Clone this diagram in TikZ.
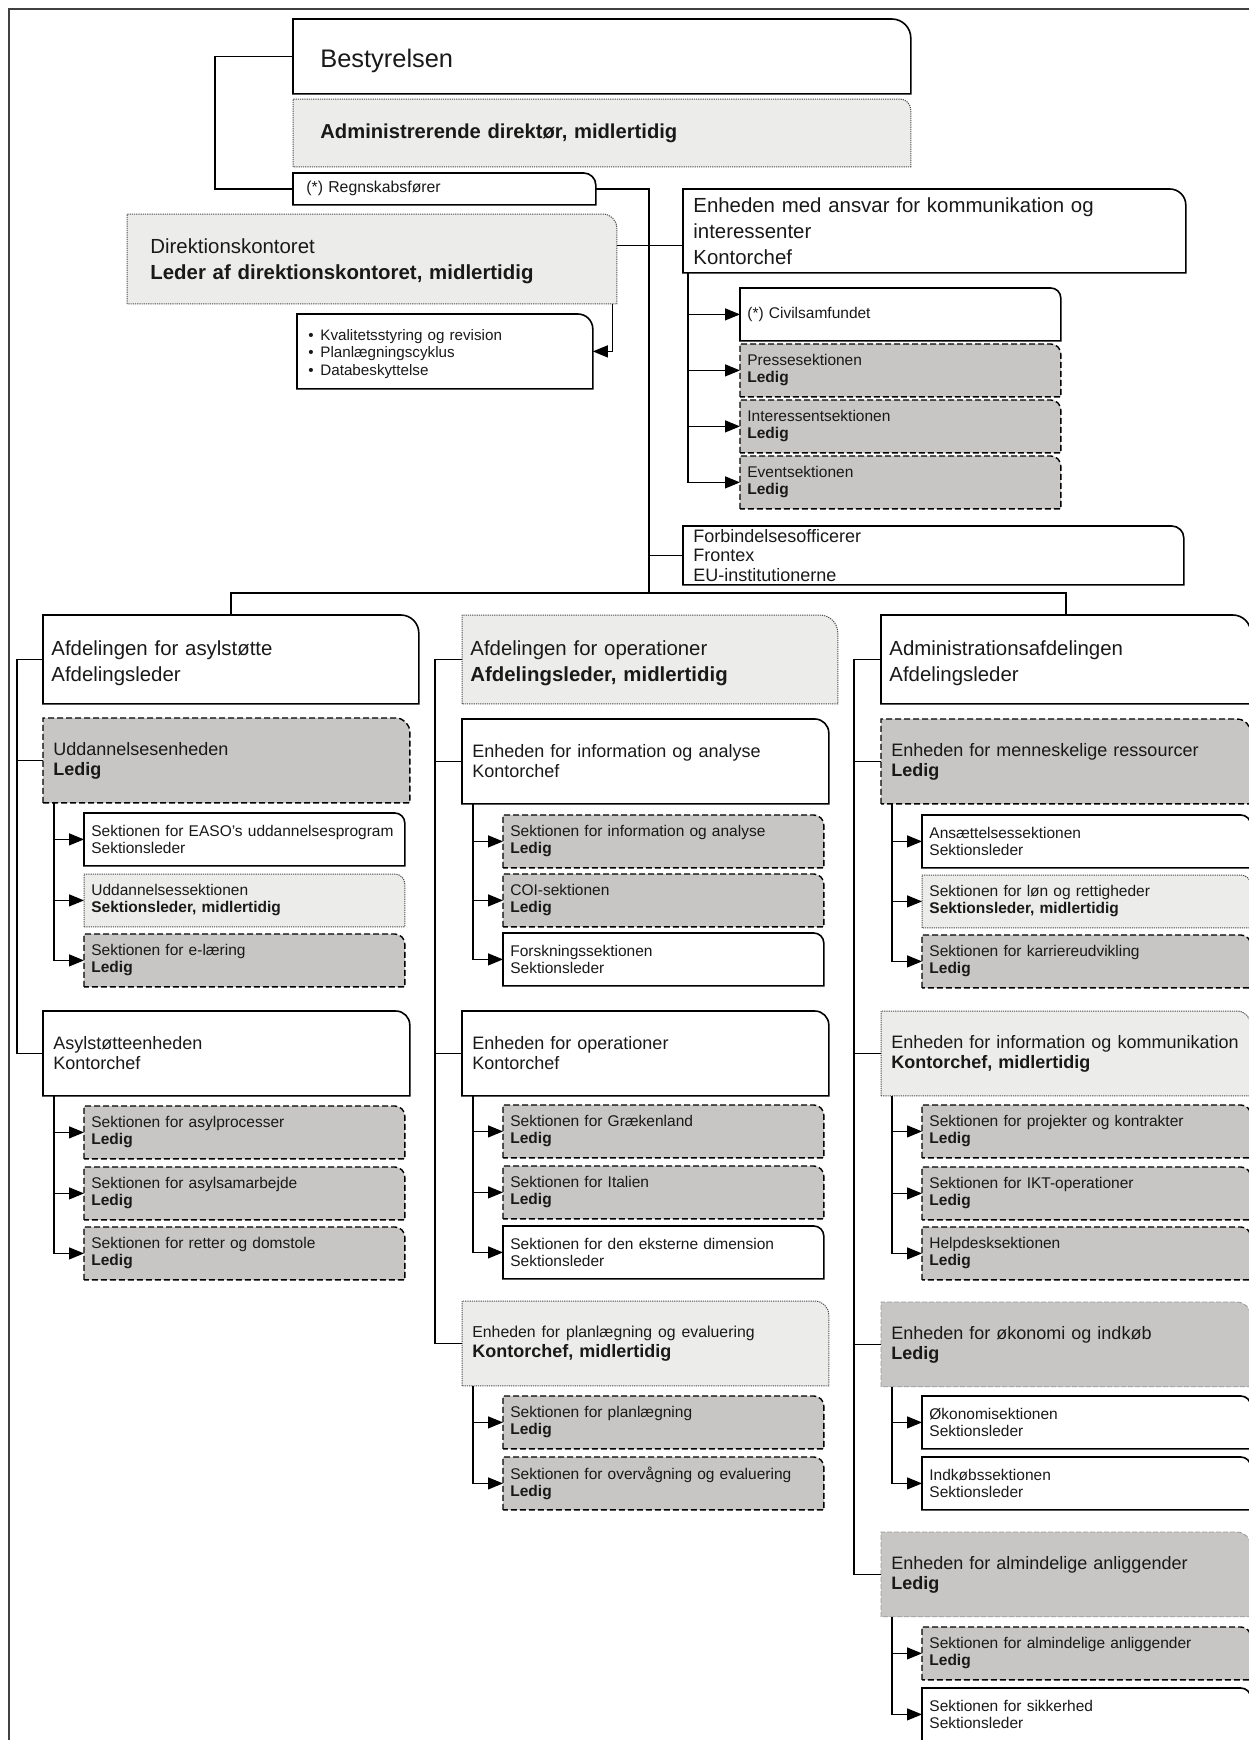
\documentclass[tikz,border=0pt]{standalone}
\usepackage{fontspec}
\setmainfont{Liberation Sans}
\usetikzlibrary{arrows.meta,backgrounds}
\definecolor{vacantgray}{RGB}{199,198,196}
\definecolor{tempgray}{RGB}{236,237,235}
\tikzset{
  conn/.style={draw=black, line width=0.6pt},
  feed/.style={conn, -{Triangle[length=7.5pt, width=6pt]}},
  plainbox/.style={draw=black, line width=0.8pt, fill=white},
  tempbox/.style={draw=black!70, line width=0.5pt, dash pattern=on 0.6pt off 0.5pt, fill=tempgray},
  vacantbox/.style={draw=black, line width=0.7pt, dash pattern=on 3pt off 1.5pt, fill=vacantgray},
  palebox/.style={draw=black!40, line width=0.4pt, dash pattern=on 2.5pt off 1pt, fill=vacantgray},
  card/.style={anchor=north west, inner ysep=0pt, align=left, text=black!90},
  deptbox/.style={card, text width=179.5pt, inner xsep=4pt, minimum height=44pt, font=\fontsize{10.2}{13}\selectfont,
    execute at begin node={\rule{0pt}{11pt}}},
  deptboxR/.style={deptbox, text width=176.5pt},
  unitbox/.style={card, text width=173pt, inner xsep=5pt, minimum height=42pt, font=\fontsize{9}{10}\selectfont},
  unitboxR/.style={unitbox, text width=174.5pt},
  sectbox/.style={card, text width=153pt, inner xsep=3.5pt, minimum height=26pt, font=\fontsize{7.75}{8.5}\selectfont},
  sectboxR/.style={sectbox, text width=157pt}
}
\begin{document}
\begin{tikzpicture}[x=0.5pt, y=-0.5pt]
  \useasboundingbox (0,0) rectangle (1248,1740);
  % Outer frame, runs off the page at right and bottom
  \draw[black!75, line width=1pt] (9,1800) -- (9,9) -- (1300,9);

  % Top: board, director, accountant
  \node[card, text width=281.5pt, inner xsep=13.5pt, minimum height=37pt, font=\fontsize{12.7}{15}\selectfont] (best) at (293,19) {\rule{0pt}{13.7pt}Bestyrelsen};
  \node[card, text width=281.5pt, inner xsep=13.5pt, minimum height=33.5pt, font=\fontsize{10.1}{13}\selectfont\bfseries] (adm) at (293,99) {Administrerende direktør, midlertidig};
  \node[card, text width=138pt, inner xsep=6.5pt, minimum height=15.5pt, font=\fontsize{7.9}{8.5}\selectfont] (regn) at (293,173) {(*) Regnskabsfører};

  % Directorate office and its tasks
  \node[card, text width=221.5pt, inner xsep=11.5pt, minimum height=44.5pt, font=\fontsize{10.2}{13}\selectfont] (dirk) at (127,214) {\rule{0pt}{10pt}Direktionskontoret\\\textbf{Leder af direktionskontoret, midlertidig}};
  \node[card, text width=136.5pt, inner xsep=5.5pt, minimum height=37pt, font=\fontsize{7.6}{8.6}\selectfont] (bull) at (297,314)
    {\rule{0pt}{8pt}\makebox[6pt][l]{\textbullet}Kvalitetsstyring og revision\\\makebox[6pt][l]{\textbullet}Planlægningscyklus\\\makebox[6pt][l]{\textbullet}Databeskyttelse};

  % Communication unit and liaison
  \node[card, text width=241pt, inner xsep=5pt, minimum height=41.5pt, font=\fontsize{10.2}{13}\selectfont] (komm) at (683,189) {Enheden med ansvar for kommunikation og\\interessenter\\Kontorchef};
  \node[sectbox] (civil) at (740,288) {(*) Civilsamfundet};
  \node[sectbox] (presse) at (740,344) {Pressesektionen\\\textbf{Ledig}};
  \node[sectbox] (interesse) at (740,400) {Interessentsektionen\\\textbf{Ledig}};
  \node[sectbox] (event) at (740,456) {Eventsektionen\\\textbf{Ledig}};
  \node[card, text width=240pt, inner xsep=5pt, minimum height=29pt, font=\fontsize{9}{9.6}\selectfont] (forb) at (683,526) {Forbindelsesofficerer\\Frontex\\EU-institutionerne};

  % Departments
  \node[deptbox] (asyl) at (43,615) {Afdelingen for asylstøtte\\Afdelingsleder};
  \node[deptbox] (ops) at (462,615) {Afdelingen for operationer\\\textbf{Afdelingsleder, midlertidig}};
  \node[deptboxR] (admin) at (881,615) {Administrationsafdelingen\\Afdelingsleder};

  % Left column
  \node[unitbox] (udd) at (43,718) {Uddannelsesenheden\\\textbf{Ledig}};
  \node[sectbox] (easo) at (84,813) {Sektionen for EASO’s uddannelsesprogram\\Sektionsleder};
  \node[sectbox] (uddsek) at (84,874) {Uddannelsessektionen\\\textbf{Sektionsleder, midlertidig}};
  \node[sectbox] (elaer) at (84,934) {Sektionen for e-læring\\\textbf{Ledig}};
  \node[unitbox] (asylst) at (43,1011) {Asylstøtteenheden\\Kontorchef};
  \node[sectbox] (asylproc) at (84,1106) {Sektionen for asylprocesser\\\textbf{Ledig}};
  \node[sectbox] (asylsam) at (84,1167) {Sektionen for asylsamarbejde\\\textbf{Ledig}};
  \node[sectbox] (retter) at (84,1227) {Sektionen for retter og domstole\\\textbf{Ledig}};

  % Middle column
  \node[unitbox] (infoan) at (462,719) {Enheden for information og analyse\\Kontorchef};
  \node[sectbox] (sekinfo) at (503,815) {Sektionen for information og analyse\\\textbf{Ledig}};
  \node[sectbox] (coi) at (503,874) {COI-sektionen\\\textbf{Ledig}};
  \node[sectbox] (forsk) at (503,933) {Forskningssektionen\\Sektionsleder};
  \node[unitbox] (opsen) at (462,1011) {Enheden for operationer\\Kontorchef};
  \node[sectbox] (graek) at (503,1105) {Sektionen for Grækenland\\\textbf{Ledig}};
  \node[sectbox] (ital) at (503,1166) {Sektionen for Italien\\\textbf{Ledig}};
  \node[sectbox] (ekstern) at (503,1226) {Sektionen for den eksterne dimension\\Sektionsleder};
  \node[unitbox] (plan) at (462,1301) {{\fontsize{7.9}{8.5}\selectfont Enheden for planlægning og evaluering}\\\textbf{Kontorchef, midlertidig}};
  \node[sectbox] (plansek) at (503,1396) {Sektionen for planlægning\\\textbf{Ledig}};
  \node[sectbox] (overv) at (503,1457) {Sektionen for overvågning og evaluering\\\textbf{Ledig}};

  % Right column
  \node[unitboxR] (menn) at (881,719) {Enheden for menneskelige ressourcer\\\textbf{Ledig}};
  \node[sectboxR] (ans) at (922,815) {Ansættelsessektionen\\Sektionsleder};
  \node[sectboxR] (lon) at (922,875) {Sektionen for løn og rettigheder\\\textbf{Sektionsleder, midlertidig}};
  \node[sectboxR] (karr) at (922,935) {Sektionen for karriereudvikling\\\textbf{Ledig}};
  \node[unitboxR] (infokomm) at (881,1011) {Enheden for information og kommunikation\\\textbf{Kontorchef, midlertidig}};
  \node[sectboxR] (proj) at (922,1105) {Sektionen for projekter og kontrakter\\\textbf{Ledig}};
  \node[sectboxR] (ikt) at (922,1167) {Sektionen for IKT-operationer\\\textbf{Ledig}};
  \node[sectboxR] (help) at (922,1227) {Helpdesksektionen\\\textbf{Ledig}};
  \node[unitboxR] (okon) at (881,1302) {Enheden for økonomi og indkøb\\\textbf{Ledig}};
  \node[sectboxR] (okonsek) at (922,1396) {Økonomisektionen\\Sektionsleder};
  \node[sectboxR] (indk) at (922,1457) {Indkøbssektionen\\Sektionsleder};
  \node[unitboxR] (alm) at (881,1532) {Enheden for almindelige anliggender\\\textbf{Ledig}};
  \node[sectboxR] (almsek) at (922,1627) {Sektionen for almindelige anliggender\\\textbf{Ledig}};
  \node[sectboxR] (sikk) at (922,1688) {Sektionen for sikkerhed\\Sektionsleder};

  % Box outlines, rounded at the top right corner only
  \begin{pgfonlayer}{background}
    \foreach \n/\rad in {best/9.5, regn/6, bull/7.5, komm/8, civil/5, forb/6, asyl/9, admin/9, asylst/7, infoan/7, opsen/7,
                         easo/5, forsk/5, ekstern/5, ans/5, okonsek/5, indk/5, sikk/5}
      \draw[plainbox] (\n.south west) -- (\n.north west) -- ([xshift=-\rad pt]\n.north east)
        arc[start angle=90, end angle=0, radius=\rad pt] -- (\n.south east) -- cycle;
    \foreach \n/\rad in {adm/5.5, dirk/7, ops/9, plan/7, infokomm/7, uddsek/5, lon/5}
      \draw[tempbox] (\n.south west) -- (\n.north west) -- ([xshift=-\rad pt]\n.north east)
        arc[start angle=90, end angle=0, radius=\rad pt] -- (\n.south east) -- cycle;
    \foreach \n/\rad in {presse/5, interesse/5, event/5, udd/7, menn/7, elaer/5, asylproc/5, asylsam/5, retter/5,
                         sekinfo/5, coi/5, graek/5, ital/5, plansek/5, overv/5, karr/5, proj/5, ikt/5, help/5, almsek/5}
      \draw[vacantbox] (\n.south west) -- (\n.north west) -- ([xshift=-\rad pt]\n.north east)
        arc[start angle=90, end angle=0, radius=\rad pt] -- (\n.south east) -- cycle;
    \foreach \n/\rad in {okon/7, alm/7}
      \draw[palebox] (\n.south west) -- (\n.north west) -- ([xshift=-\rad pt]\n.north east)
        arc[start angle=90, end angle=0, radius=\rad pt] -- (\n.south east) -- cycle;
  \end{pgfonlayer}

  % Top connectors
  \coordinate (bus) at (649,593);
  \draw[conn] (best.west) -- ++(-78,0) |- (regn.west);
  \draw[conn] (regn.east) -| (bus);
  \draw[conn] (asyl.north) |- (bus) -| (admin.north);
  \coordinate (dk) at ([yshift=6.75pt]dirk.east);
  \draw[conn] (dk) -- (dk -| komm.west);
  \draw[feed] ([xshift=-2pt]dirk.south east) |- (bull.east);
  \draw[conn] (forb.west) -- (forb.west -| bus);
  \foreach \n in {civil, presse, interesse, event}
    \draw[feed] ([xshift=2.5pt]komm.south west) |- (\n.west);

  % Department to unit lines
  \draw[conn] (asyl.west) -- ++(-26,0) |- (asylst.west);
  \draw[conn] (udd.west) -- ++(-26,0);
  \draw[conn] (ops.west) -- ++(-27,0) |- (plan.west);
  \foreach \n in {infoan, opsen}
    \draw[conn] (\n.west) -- ++(-27,0);
  \draw[conn] (admin.west) -- ++(-27,0) |- (alm.west);
  \foreach \n in {menn, infokomm, okon}
    \draw[conn] (\n.west) -- ++(-27,0);

  % Unit to section arrows
  \foreach \u/\s in {udd/easo, udd/uddsek, udd/elaer, asylst/asylproc, asylst/asylsam, asylst/retter,
                     infoan/sekinfo, infoan/coi, infoan/forsk, opsen/graek, opsen/ital, opsen/ekstern,
                     plan/plansek, plan/overv, menn/ans, menn/lon, menn/karr, infokomm/proj, infokomm/ikt,
                     infokomm/help, okon/okonsek, okon/indk, alm/almsek, alm/sikk}
    \draw[feed] ([xshift=5.5pt]\u.south west) |- (\s.west);
\end{tikzpicture}
\end{document}
